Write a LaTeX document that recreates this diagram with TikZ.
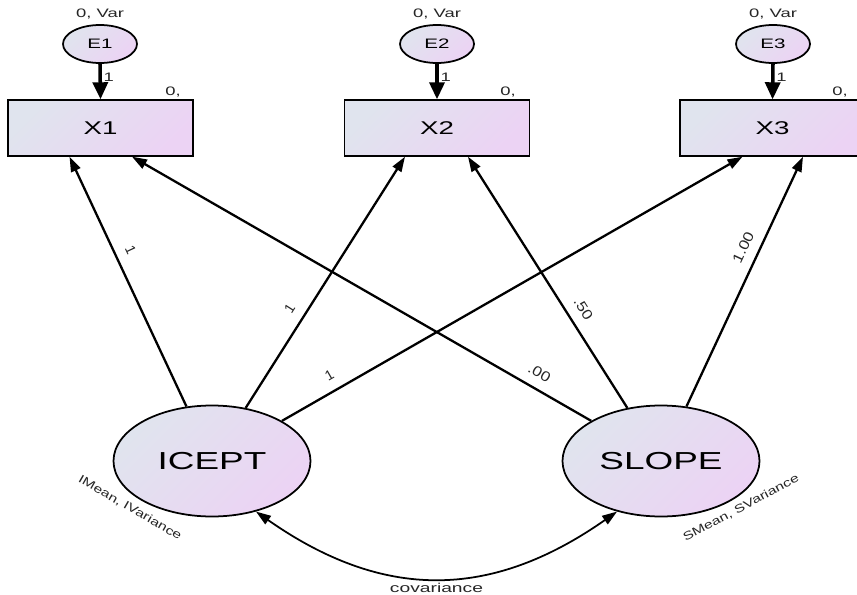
\documentclass[tikz,border=0pt]{standalone}
\usepackage{fontspec}
\setmainfont{Liberation Sans}
\usepackage{graphicx}
\usetikzlibrary{arrows.meta,shapes.geometric}
\definecolor{amostop}{RGB}{224,228,238}
\definecolor{amosbot}{RGB}{236,211,244}
\newcommand{\stretchtxt}[1]{\scalebox{1.5}[1]{#1}}
\tikzset{
	latent/.style={ellipse, draw, line width=1pt, top color=amostop, bottom color=amosbot, shading angle=45, inner sep=0pt},
	observed/.style={rectangle, draw, line width=0.8pt, top color=amostop, bottom color=amosbot, shading angle=45, minimum width=3.7cm, minimum height=1.12cm, inner sep=0pt, font=\fontsize{10.5}{12}\selectfont},
	regpath/.style={line width=1.3pt, -{Triangle[length=0.3cm, width=0.2cm]}},
	errpath/.style={line width=2pt, -{Triangle[length=0.34cm, width=0.3cm]}},
	parlbl/.style={inner sep=1pt, text=black!85, font=\fontsize{7}{8}\selectfont},
	loadlbl/.style={inner sep=1pt, text=black!85, font=\fontsize{8}{9}\selectfont}
}

\begin{document}
\begin{tikzpicture}
			%%%%% START %%%%%
			
			\clip (0, 0) rectangle (17.14, 11.88);
			\fill[white] (0, 0) rectangle (17.14, 11.88);
			
			%% error terms
			\node[latent, minimum width=1.48cm, minimum height=0.76cm, font=\fontsize{7.8}{9}\selectfont] (E1) at (2.0, 11.0) {\stretchtxt{E1}};
			\node[latent, minimum width=1.48cm, minimum height=0.76cm, font=\fontsize{7.8}{9}\selectfont] (E2) at (8.74, 11.0) {\stretchtxt{E2}};
			\node[latent, minimum width=1.48cm, minimum height=0.76cm, font=\fontsize{7.8}{9}\selectfont] (E3) at (15.46, 11.0) {\stretchtxt{E3}};
			\node[parlbl] (E1var) at (2.0, 11.6) {\stretchtxt{0, Var}};
			\node[parlbl] (E2var) at (8.74, 11.6) {\stretchtxt{0, Var}};
			\node[parlbl] (E3var) at (15.46, 11.6) {\stretchtxt{0, Var}};
			
			%% observed
			\node[observed] (X1) at (2.01, 9.32) {\stretchtxt{X1}};
			\node[observed] (X2) at (8.74, 9.32) {\stretchtxt{X2}};
			\node[observed] (X3) at (15.45, 9.32) {\stretchtxt{X3}};
			\node[parlbl] (X1int) at (3.46, 10.04) {\stretchtxt{0,}};
			\node[parlbl] (X2int) at (10.16, 10.04) {\stretchtxt{0,}};
			\node[parlbl] (X3int) at (16.8, 10.04) {\stretchtxt{0,}};
			
			\draw[errpath] (E1.south) -- (X1.north) node[parlbl, right, pos=0.38] {\stretchtxt{1}};
			\draw[errpath] (E2.south) -- (X2.north) node[parlbl, right, pos=0.38] {\stretchtxt{1}};
			\draw[errpath] (E3.south) -- (X3.north) node[parlbl, right, pos=0.38] {\stretchtxt{1}};
			
			%% growth factors
			\node[latent, minimum width=3.94cm, minimum height=2.22cm, font=\fontsize{14}{16}\selectfont] (ICEPT) at (4.24, 2.66) {\stretchtxt{ICEPT}};
			\node[latent, minimum width=3.94cm, minimum height=2.22cm, font=\fontsize{14}{16}\selectfont] (SLOPE) at (13.22, 2.66) {\stretchtxt{SLOPE}};
			\node[parlbl, rotate=-30, font=\fontsize{6.6}{8}\selectfont] (Imean) at (2.6, 1.72) {\scalebox{1.35}[1]{IMean, IVariance}};
			\node[parlbl, rotate=28, font=\fontsize{6.6}{8}\selectfont] (Smean) at (14.82, 1.72) {\scalebox{1.35}[1]{SMean, SVariance}};
			
			%% loadings
			\draw[regpath] (ICEPT) -- ([xshift=-0.62cm]X1.south) node[loadlbl, sloped, above=0.16cm, pos=0.6] {1};
			\draw[regpath] (ICEPT) -- ([xshift=-0.64cm]X2.south) node[loadlbl, sloped, above=0.16cm, pos=0.36] {1};
			\draw[regpath] (ICEPT) -- ([xshift=-0.6cm]X3.south) node[loadlbl, sloped, above=0.16cm, pos=0.12] {1};
			
			\draw[regpath] (SLOPE) -- ([xshift=0.63cm]X1.south) node[loadlbl, sloped, above=0.16cm, pos=0.13] {\scalebox{1.2}[1]{.00}};
			\draw[regpath] (SLOPE) -- ([xshift=0.62cm]X2.south) node[loadlbl, sloped, above=0.16cm, pos=0.36] {\scalebox{1.2}[1]{.50}};
			\draw[regpath] (SLOPE) -- ([xshift=0.61cm]X3.south) node[loadlbl, sloped, above=0.16cm, pos=0.61] {\scalebox{1.2}[1]{1.00}};
			
			%% covariance
			\draw[line width=1pt, {Triangle[length=0.3cm, width=0.2cm]}-{Triangle[length=0.3cm, width=0.2cm]}] (ICEPT.-49) to[out=-35, in=-145, looseness=1.1] node[parlbl, below=0.05cm, font=\fontsize{7.3}{8}\selectfont] {\stretchtxt{covariance}} (SLOPE.-131);
			
			%%%%% END %%%%%
\end{tikzpicture}
\end{document}
